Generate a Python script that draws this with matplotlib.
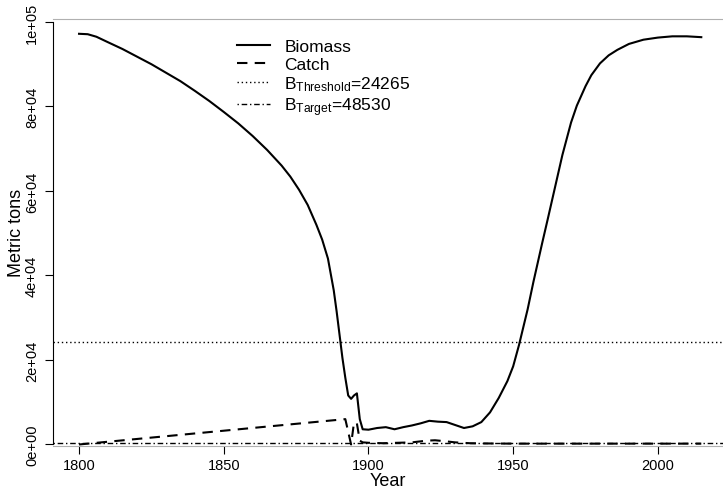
import matplotlib
matplotlib.use("Agg")
import matplotlib.pyplot as plt
from matplotlib.lines import Line2D

plt.rcParams["font.family"] = ["Liberation Sans", "DejaVu Sans"]
plt.rcParams["mathtext.fontset"] = "custom"
plt.rcParams["mathtext.rm"] = "Liberation Sans"
plt.rcParams["mathtext.it"] = "Liberation Sans"

# ── data ─
biomass_years = [1800, 1803, 1806, 1810, 1815, 1820, 1825, 1830, 1835, 1840,
                 1845, 1850, 1855, 1860, 1865, 1870, 1873, 1876, 1879, 1882,
                 1884, 1886, 1888, 1889, 1890, 1891, 1892, 1893, 1894, 1895,
                 1896, 1897, 1898, 1900, 1903, 1906, 1909, 1912, 1915, 1918,
                 1921, 1924, 1927, 1930, 1933, 1936, 1939, 1942, 1945, 1948,
                 1950, 1952, 1955, 1957, 1960, 1962, 1965, 1967, 1970, 1972,
                 1975, 1977, 1980, 1983, 1986, 1990, 1995, 2000, 2005, 2010,
                 2015]
biomass = [97200, 97100, 96500, 95200, 93600, 91800, 90000, 88000, 86000, 83700,
           81300, 78700, 76000, 73000, 69700, 66000, 63400, 60300, 56700, 52000,
           48500, 44000, 36500, 31500, 26000, 20500, 15800, 11600, 10800, 11600,
           12100, 6000, 3600, 3500, 3900, 4100, 3600, 4100, 4500, 5000,
           5600, 5400, 5300, 4600, 3900, 4300, 5300, 7600, 11000, 15000,
           18500, 23500, 32000, 38500, 47600, 53500, 62500, 68500, 76200, 80200,
           84800, 87400, 90200, 92100, 93400, 94800, 95800, 96300, 96600, 96600,
           96400]

catch_years = [1800, 1892, 1893, 1894, 1895, 1896, 1897, 1898, 1900, 1905,
               1910, 1915, 1920, 1923, 1926, 1930, 1935, 1940, 1950, 1960,
               1970, 1980, 1990, 2000, 2010, 2015]
catch = [0, 6000, 3000, 0, 5200, 5000, 900, 500, 400, 300,
         400, 500, 900, 1000, 800, 500, 300, 250, 200, 200,
         200, 200, 200, 200, 200, 200]

b_threshold = 24265
b_target = 48530
target_line_level = 300   # where the dot-dash line is actually drawn

x_ticks = [1800, 1850, 1900, 1950, 2000]
y_ticks = [0, 20000, 40000, 60000, 80000, 100000]
y_tick_labels = ["0e+00", "2e+04", "4e+04", "6e+04", "8e+04", "1e+05"]

fig = plt.figure(figsize=(7.23, 4.89), dpi=100)
ax = fig.add_axes([53 / 723, 1 - 446.5 / 489, 1 - 53 / 723, 426.5 / 489])

ax.plot(biomass_years, biomass, color="black", lw=1.5, ls="-")
ax.plot(catch_years, catch, color="black", lw=1.5, ls=(0, (5, 3.5)))
ax.axhline(b_threshold, color="black", lw=1, ls=(0, (1, 2)))
ax.axhline(target_line_level, color="black", lw=1, ls=(0, (1, 2, 4, 2)))

ax.set_xlim(1791.0, 2022.5)
ax.set_ylim(-240, 100700)

for s in ["top", "bottom"]:
    ax.spines[s].set_color("#b0b0b0")
ax.spines["right"].set_visible(False)
ax.spines["left"].set_bounds(0, 100000)
ax.spines["left"].set_color("black")

ax.set_xticks(x_ticks)
ax.set_yticks(y_ticks)
ax.set_yticklabels(y_tick_labels, rotation=90, va="center")
ax.tick_params(axis="both", direction="out", length=6, width=0.8,
               labelsize=10.5, colors="black")
ax.tick_params(axis="y", pad=4)
ax.tick_params(axis="x", pad=3)

ax.set_xlabel("Year", fontsize=13, labelpad=0)
ax.set_ylabel("Metric tons", fontsize=13, labelpad=0)

handles = [
    Line2D([], [], color="black", lw=1.5, ls="-"),
    Line2D([], [], color="black", lw=1.5, ls=(0, (5, 3.5))),
    Line2D([], [], color="black", lw=1, ls=(0, (1, 2))),
    Line2D([], [], color="black", lw=1, ls=(0, (1, 2, 4, 2))),
]
labels = ["Biomass", "Catch",
          r"B$_{\mathrm{Threshold}}$=" + str(b_threshold),
          r"B$_{\mathrm{Target}}$=" + str(b_target)]
ax.legend(handles, labels, loc="upper left", bbox_to_anchor=(0.265, 0.97),
          frameon=False, fontsize=12.5, handlelength=1.85, handletextpad=0.85,
          labelspacing=0.15, borderaxespad=0)

fig.savefig("out.png", dpi=100)
